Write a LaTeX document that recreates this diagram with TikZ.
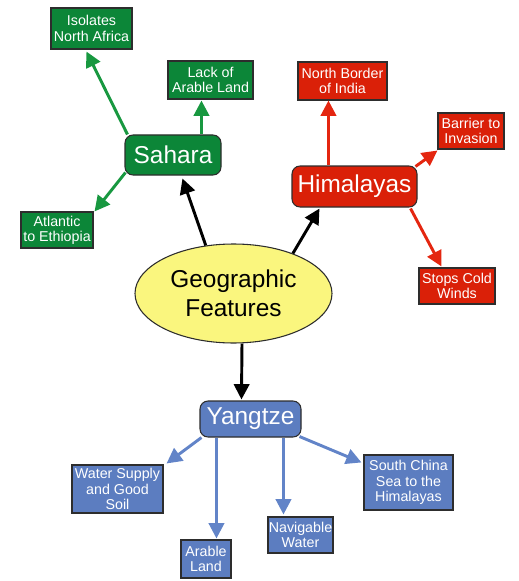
\documentclass[tikz,border=0pt]{standalone}
\usepackage{fontspec}
\setmainfont{Liberation Sans}
\usetikzlibrary{arrows.meta,calc,shapes.geometric}
\definecolor{sgreen}{RGB}{12,134,56}
\definecolor{sgreenarr}{RGB}{24,152,64}
\definecolor{hred}{RGB}{218,32,8}
\definecolor{hredarr}{RGB}{228,38,16}
\definecolor{yblue}{RGB}{92,125,192}
\definecolor{ybluearr}{RGB}{98,132,200}
\definecolor{gyellow}{RGB}{250,246,126}
\definecolor{bordergray}{RGB}{45,45,45}
\tikzset{
  box/.style={draw=bordergray, line width=0.8pt, text=white, align=center, inner sep=0pt,
    font=\fontsize{10.7}{11.5}\selectfont},
  bigbox/.style={box, rounded corners=6pt, font=\fontsize{18.3}{20}\selectfont},
  arr/.style={line width=2.2pt, -{Triangle[width=11.5pt,length=11.5pt]}},
  garr/.style={arr, draw=sgreenarr, fill=sgreenarr},
  rarr/.style={arr, draw=hredarr, fill=hredarr},
  barr/.style={arr, draw=ybluearr, fill=ybluearr},
  karr/.style={arr, draw=black, fill=black},
}
\begin{document}
\begin{tikzpicture}[x=0.75pt,y=-0.75pt]
\useasboundingbox (0,0) rectangle (518,581);
% Sahara group
\node[box, fill=sgreen, minimum width=60.75pt, minimum height=30.75pt] (isol) at (91.5,28.5) {Isolates\\North Africa};
\node[box, fill=sgreen, minimum width=63.75pt, minimum height=28.5pt] (lack) at (210.5,80) {Lack of\\Arable Land};
\node[bigbox, fill=sgreen, minimum width=72pt, minimum height=30pt] (sahara) at (173,155) {Sahara};
\node[box, fill=sgreen, minimum width=54pt, minimum height=27pt] (atl) at (57,230) {Atlantic\\to Ethiopia};
% Himalayas group
\node[box, fill=hred, minimum width=66.75pt, minimum height=28.5pt] (north) at (342.5,81) {North Border\\of India};
\node[box, fill=hred, minimum width=49.5pt, minimum height=27pt] (barrier) at (471,131) {Barrier to\\Invasion};
\node[bigbox, fill=hred, minimum width=93.75pt, minimum height=30.75pt] (him) at (354.5,186.5) {Himalayas};
\node[box, fill=hred, minimum width=57pt, minimum height=27pt] (stops) at (457,286) {Stops Cold\\Winds};
% centre
\node[ellipse, draw=bordergray, line width=0.8pt, fill=gyellow, minimum width=147.75pt, minimum height=74.25pt,
  inner sep=0pt, align=center, text=black, font=\fontsize{18.3}{21.5}\selectfont] (geo) at (233.5,293.5) {Geographic\\Features};
% Yangtze group
\node[bigbox, fill=yblue, minimum width=75.75pt, minimum height=27pt] (yang) at (250.5,419) {Yangtze};
\node[box, fill=yblue, minimum width=68.25pt, minimum height=36pt] (water) at (117.5,489) {Water Supply\\and Good\\Soil};
\node[box, fill=yblue, minimum width=37.5pt, minimum height=28.5pt] (arable) at (206,559) {Arable\\Land};
\node[box, fill=yblue, minimum width=48.75pt, minimum height=27pt] (nav) at (300.5,535) {Navigable\\Water};
\node[box, fill=yblue, minimum width=66.75pt, minimum height=41.25pt] (south) at (408.5,482.5) {South China\\Sea to the\\Himalayas};
% black arrows
\draw[karr] (geo.120) -- ($(sahara.south west)+(58,3)$);
\draw[karr] (geo.34) -- ($(him.south west)+(28,1)$);
\draw[karr] ($(geo.south)+(8.5,0)$) -- ($(yang.north west)+(42,-1)$);
% green arrows
\draw[garr] ($(sahara.north west)+(3,0)$) -- ($(isol.south west)+(36,2)$);
\draw[garr] ($(sahara.north west)+(77,0)$) -- ($(lack.south west)+(34,1)$);
\draw[garr] ($(sahara.south west)+(1,-3)$) -- ($(atl.north east)+(1,0)$);
% red arrows
\draw[rarr] ($(him.north west)+(37,0)$) -- ($(north.south west)+(31,0)$);
\draw[rarr] ($(him.north east)+(-2,1)$) -- ($(barrier.south west)+(0,1)$);
\draw[rarr] ($(him.south east)+(-7,1)$) -- ($(stops.north west)+(23,-1)$);
% blue arrows
\draw[barr] ($(yang.south west)+(2,0)$) -- ($(water.north east)+(3,-1)$);
\draw[barr] ($(yang.south west)+(17,0)$) -- ($(arable.north west)+(36,-1)$);
\draw[barr] ($(yang.south west)+(84,0)$) -- ($(nav.north west)+(16,-2)$);
\draw[barr] ($(yang.south east)+(-2,-1)$) -- ($(south.north west)+(-2,8)$);
\end{tikzpicture}
\end{document}
